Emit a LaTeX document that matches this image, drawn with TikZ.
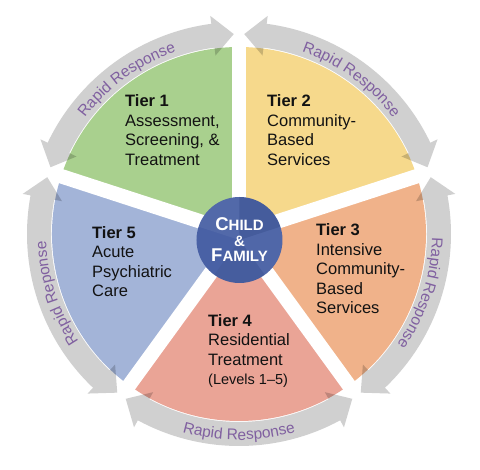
\documentclass[tikz,border=0pt]{standalone}
\usepackage{fontspec}
\setmainfont{Liberation Sans}
\usetikzlibrary{decorations.text}
\definecolor{tone}{RGB}{169,208,142}
\definecolor{ttwo}{RGB}{246,217,140}
\definecolor{tthree}{RGB}{240,178,138}
\definecolor{tfour}{RGB}{234,164,150}
\definecolor{tfive}{RGB}{163,180,216}
\definecolor{hubblue}{RGB}{73,97,165}
\definecolor{arrowgray}{RGB}{208,208,208}
\definecolor{rrpurple}{RGB}{128,96,160}
\newcommand\rrfont{\fontsize{15.5}{15.5}\selectfont}
\newcommand\hubbig{\fontsize{18.5}{15.5}\selectfont}
\newcommand\hubsmall{\fontsize{15}{15.5}\selectfont}
\begin{document}
\begin{tikzpicture}[x=1pt,y=1pt,
  tiertext/.style={anchor=base west, align=left, inner sep=0, text=black!93,
    font=\fontsize{16.5}{19.5}\selectfont},
  hub/.style={circle, fill=hubblue, minimum size=86, inner sep=0},
  hubtext/.style={align=center, inner sep=0, text=white,
    font=\fontsize{15}{15.5}\selectfont\bfseries},
  arrowband/.style={fill=arrowgray, blend mode=multiply},
  gapline/.style={draw=white, line width=14.5},
  rr/.style={decorate, decoration={text along path, text={|\rrfont|#1},
    text align=center, text color=rrpurple}}
]
\useasboundingbox (-239,-236) rectangle (241,234);
\fill[white] (-239,-236) rectangle (241,234);
% wedges
\fill[tone]   (0,0) -- (90:187)  arc[start angle=90,  end angle=162, radius=187] -- cycle;
\fill[ttwo]   (0,0) -- (18:187)  arc[start angle=18,  end angle=90,  radius=187] -- cycle;
\fill[tthree] (0,0) -- (-54:187) arc[start angle=-54, end angle=18,  radius=187] -- cycle;
\fill[tfour]  (0,0) -- (-126:187) arc[start angle=-126, end angle=-54, radius=187] -- cycle;
\fill[tfive]  (0,0) -- (162:187) arc[start angle=162, end angle=234, radius=187] -- cycle;
% gaps
\foreach \g in {90,18,-54,-126,162} \draw[gapline] (0,0) -- (\g:196);
% arrows
\foreach \a in {18,90,162,234,306} {
  \fill[arrowband] ({\a+1.5}:200) -- ({\a+7.5}:220) -- ({\a+7.5}:212)
    arc[start angle={\a+7.5}, end angle={\a+64.5}, radius=212]
    -- ({\a+64.5}:220) -- ({\a+70.5}:200) -- ({\a+64.5}:180) -- ({\a+64.5}:188)
    arc[start angle={\a+64.5}, end angle={\a+7.5}, radius=188]
    -- ({\a+7.5}:180) -- cycle;
}
% Rapid Response labels
\path[rr={Rapid Response}] (158:193) arc[start angle=158, end angle=94, radius=193];
\path[rr={Rapid Response}] (86:193) arc[start angle=86, end angle=22, radius=193];
\path[rr={Rapid Response}] (14:193) arc[start angle=14, end angle=-50, radius=193];
\path[rr={Rapid Response}] (-122:206) arc[start angle=-122, end angle=-58, radius=206];
\path[rr={Rapid Reponse}] (230:193) arc[start angle=230, end angle=166, radius=193];
% hub
\node[hub] (hub) at (0.5,-6) {};
\begin{scope}[shift={(hub.center)}]
  \fill[white, opacity=0.05] (0,0) -- (90:43) arc[start angle=90, end angle=162, radius=43] -- cycle;
  \fill[black, opacity=0.05] (0,0) -- (18:43) arc[start angle=18, end angle=90, radius=43] -- cycle;
  \fill[white, opacity=0.04] (0,0) -- (-54:43) arc[start angle=-54, end angle=18, radius=43] -- cycle;
  \fill[black, opacity=0.04] (0,0) -- (-126:43) arc[start angle=-126, end angle=-54, radius=43] -- cycle;
\end{scope}
\node[hubtext] (hubtext) at (hub.center) {\hubbig C\hubsmall HILD\\\hubsmall\&\\\hubbig F\hubsmall AMILY};
% tier texts (anchored at the baseline of the last line)
\node[tiertext] (t1) at (-114,68.5) {\textbf{Tier 1}\\Assessment,\\Screening, \&\\Treatment};
\node[tiertext] (t2) at (28,68.5) {\textbf{Tier 2}\\Community-\\Based\\Services};
\node[tiertext] (t3) at (77,-80) {\textbf{Tier 3}\\Intensive\\Community-\\Based\\Services};
\node[tiertext] (t4) at (-31,-151) {\textbf{Tier 4}\\Residential\\Treatment\\{\fontsize{14.5}{19}\selectfont (Levels 1–5)}};
\node[tiertext] (t5) at (-147,-63) {\textbf{Tier 5}\\Acute\\Psychiatric\\Care};
\end{tikzpicture}
\end{document}
